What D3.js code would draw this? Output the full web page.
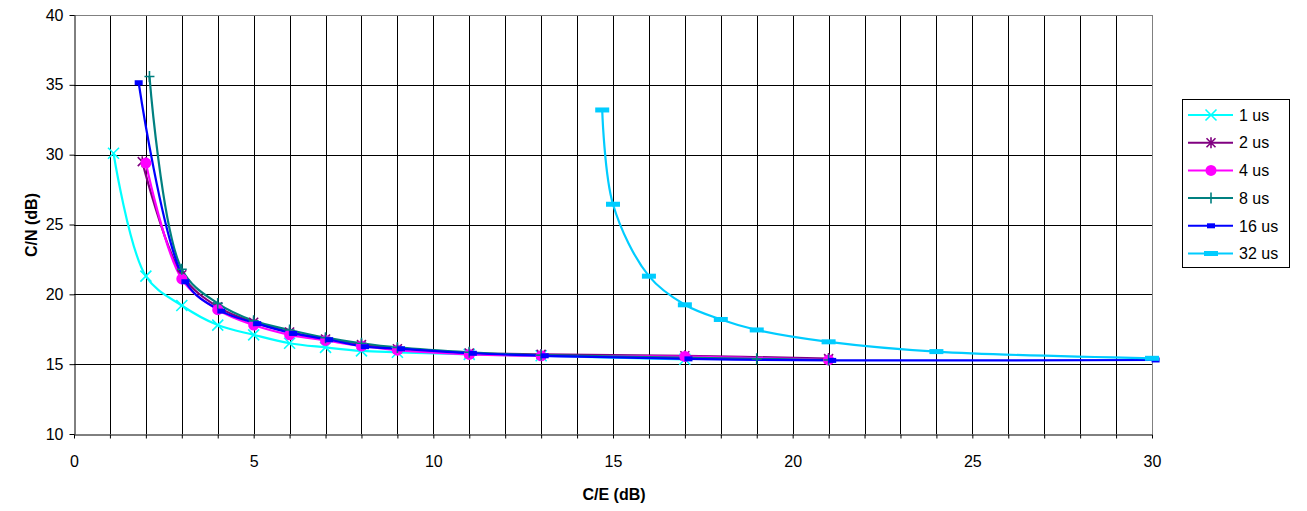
<!DOCTYPE html>
<html>
<head>
<meta charset="utf-8">
<script src="https://cdn.jsdelivr.net/npm/d3@7"></script>
<style>
  body { margin: 0; background: #fff; }
  text { font-family: "Liberation Sans", Arial, sans-serif; }
</style>
</head>
<body>
<div id="container"></div>
<script>
// series values: C/E (dB) and C/N (dB)
const ce1us = [1.1, 2, 3, 4, 5, 6, 7, 8, 9, 11, 13, 17];
const cn1us = [30.1, 21.3, 19.2, 17.8, 17.1, 16.5, 16.2, 15.95, 15.85, 15.7, 15.6, 15.35];

const ce2us = [1.9, 3, 4, 5, 6, 7, 8, 9, 11, 13, 17, 21];
const cn2us = [29.5, 21.4, 19.1, 18.0, 17.3, 16.8, 16.4, 16.1, 15.8, 15.7, 15.6, 15.4];

const ce4us = [2, 3, 4, 5, 6, 7, 8, 9, 11, 13, 17, 21];
const cn4us = [29.4, 21.1, 18.9, 17.8, 17.1, 16.7, 16.3, 16.0, 15.7, 15.6, 15.55, 15.3];

const ce8us = [2.1, 3, 4, 5, 6, 7, 8, 9, 11, 13, 19, 21];
const cn8us = [35.6, 21.8, 19.35, 18.1, 17.45, 16.9, 16.5, 16.2, 15.85, 15.65, 15.38, 15.3];

const ce16us = [1.8, 3.1, 4.1, 5.1, 6.1, 7.1, 8.1, 9.1, 11.1, 13.1, 17.1, 21.1, 30.1];
const cn16us = [35.15, 20.9, 18.8, 17.9, 17.2, 16.75, 16.25, 16.1, 15.78, 15.6, 15.38, 15.27, 15.3];

const ce32us = [14.7, 15, 16, 17, 18, 19, 21, 24, 30];
const cn32us = [33.2, 26.45, 21.3, 19.25, 18.2, 17.45, 16.6, 15.9, 15.42];

const seriesNames = ["1 us", "2 us", "4 us", "8 us", "16 us", "32 us"];
const xTicks = [0, 5, 10, 15, 20, 25, 30];
const yTicks = [10, 15, 20, 25, 30, 35, 40];

const width = 1307;
const height = 511;

const series = [
    { name: seriesNames[0], ce: ce1us, cn: cn1us, color: "#00FFFF", marker: "x" },
    { name: seriesNames[1], ce: ce2us, cn: cn2us, color: "#800080", marker: "star" },
    { name: seriesNames[2], ce: ce4us, cn: cn4us, color: "#FF00FF", marker: "circle" },
    { name: seriesNames[3], ce: ce8us, cn: cn8us, color: "#008080", marker: "plus" },
    { name: seriesNames[4], ce: ce16us, cn: cn16us, color: "#0000FF", marker: "dash" },
    { name: seriesNames[5], ce: ce32us, cn: cn32us, color: "#00CCFF", marker: "longdash" }
];

const x = d3.scaleLinear().domain([0, 30]).range([74, 1152]);
const y = d3.scaleLinear().domain([10, 40]).range([434, 15]);

const svg = d3.create("svg")
    .attr("width", width)
    .attr("height", height)
    .attr("viewBox", [0, 0, width, height]);

// grid: every 1 dB on x, every 5 dB on y
svg.append("g")
    .selectAll("line")
    .data(d3.range(1, 31))
    .join("line")
    .attr("x1", d => Math.round(x(d)) + 0.5)
    .attr("x2", d => Math.round(x(d)) + 0.5)
    .attr("y1", y(40))
    .attr("y2", y(10))
    .attr("stroke", d => d === 30 ? "#808080" : "#000")
    .attr("stroke-width", 1);

svg.append("g")
    .selectAll("line")
    .data(yTicks.slice(1))
    .join("line")
    .attr("x1", x(0))
    .attr("x2", x(30))
    .attr("y1", d => Math.round(y(d)) + 0.5)
    .attr("y2", d => Math.round(y(d)) + 0.5)
    .attr("stroke", d => d === 40 ? "#808080" : "#000")
    .attr("stroke-width", 1);

// axes
const xAxis = d3.axisBottom(x)
    .tickValues(d3.range(0, 31))
    .tickFormat(d => xTicks.includes(d) ? d : "")
    .tickSizeInner(4)
    .tickSizeOuter(0)
    .tickPadding(19);

const gx = svg.append("g")
    .attr("transform", `translate(0,${Math.round(y(10)) + 0.5})`)
    .call(xAxis);

const yAxis = d3.axisLeft(y)
    .tickValues(yTicks)
    .tickSizeInner(5)
    .tickSizeOuter(0)
    .tickPadding(6);

const gy = svg.append("g")
    .attr("transform", `translate(${Math.round(x(0)) + 0.5},0)`)
    .call(yAxis);

for (const g of [gx, gy]) {
    g.select(".domain").attr("stroke", "#000");
    g.selectAll(".tick line").attr("stroke", "#000");
    g.selectAll(".tick text")
        .attr("font-size", 16)
        .attr("fill", "#000")
        .style("font-family", "'Liberation Sans', Arial, sans-serif");
}
gx.selectAll(".tick text").attr("dy", "0.6em");

// axis titles
svg.append("text")
    .attr("x", 614)
    .attr("y", 500)
    .attr("text-anchor", "middle")
    .attr("font-size", 16)
    .attr("font-weight", "bold")
    .text("C/E (dB)");

svg.append("text")
    .attr("transform", "translate(37,225) rotate(-90)")
    .attr("text-anchor", "middle")
    .attr("font-size", 16)
    .attr("font-weight", "bold")
    .text("C/N (dB)");

// markers
function drawMarker(g, type, color) {
    switch (type) {
        case "x":
            g.append("path").attr("d", "M-5.5,-5.5L5.5,5.5M-5.5,5.5L5.5,-5.5")
                .attr("stroke", color).attr("stroke-width", 1.6).attr("fill", "none");
            break;
        case "star":
            g.append("path").attr("d", "M-4.5,-4.5L4.5,4.5M-4.5,4.5L4.5,-4.5M0,-5.5L0,5.5")
                .attr("stroke", color).attr("stroke-width", 1.6).attr("fill", "none");
            break;
        case "circle":
            g.append("circle").attr("r", 5.5).attr("fill", color);
            break;
        case "plus":
            g.append("path").attr("d", "M-5,0L5,0M0,-5.5L0,5.5")
                .attr("stroke", color).attr("stroke-width", 1.6).attr("fill", "none");
            break;
        case "dash":
            g.append("rect").attr("x", -4).attr("y", -2.5).attr("width", 8).attr("height", 5)
                .attr("fill", color);
            break;
        case "longdash":
            g.append("rect").attr("x", -7).attr("y", -2.5).attr("width", 14).attr("height", 5)
                .attr("fill", color);
            break;
    }
}

const line = d3.line()
    .x(d => x(d[0]))
    .y(d => y(d[1]))
    .curve(d3.curveCatmullRom.alpha(0.5));

for (const s of series) {
    const pts = s.ce.map((c, i) => [c, s.cn[i]]);
    svg.append("path")
        .datum(pts)
        .attr("d", line)
        .attr("fill", "none")
        .attr("stroke", s.color)
        .attr("stroke-width", 2.2);
}

for (const s of series) {
    const pts = s.ce.map((c, i) => [c, s.cn[i]]);
    svg.append("g")
        .selectAll("g")
        .data(pts)
        .join("g")
        .attr("transform", d => `translate(${x(d[0])},${y(d[1])})`)
        .each(function () { drawMarker(d3.select(this), s.marker, s.color); });
}

// legend
const legend = svg.append("g");
legend.append("rect")
    .attr("x", 1182.5)
    .attr("y", 99.5)
    .attr("width", 107)
    .attr("height", 168)
    .attr("fill", "#fff")
    .attr("stroke", "#000");

series.forEach((s, i) => {
    const ly = 115 + i * 27.7;
    legend.append("line")
        .attr("x1", 1188).attr("x2", 1233)
        .attr("y1", ly).attr("y2", ly)
        .attr("stroke", s.color).attr("stroke-width", 2);
    drawMarker(legend.append("g").attr("transform", `translate(1211,${ly})`), s.marker, s.color);
    legend.append("text")
        .attr("x", 1239)
        .attr("y", ly)
        .attr("dy", "0.36em")
        .attr("font-size", 16)
        .text(s.name);
});

document.getElementById("container").appendChild(svg.node());
</script>
</body>
</html>
